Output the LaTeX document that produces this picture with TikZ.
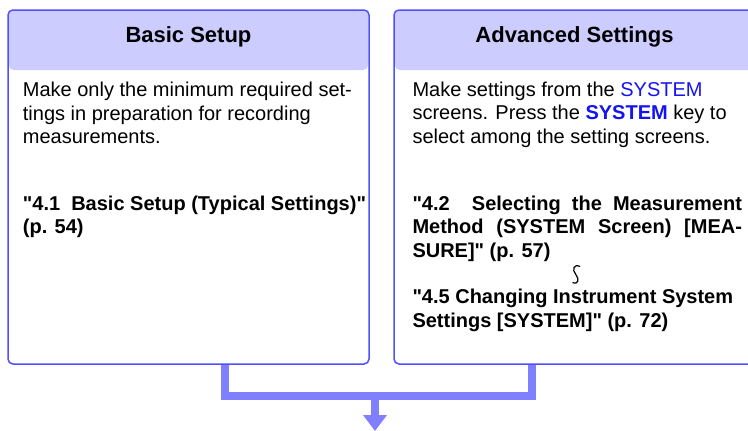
\documentclass[tikz,border=0pt]{standalone}
\usepackage{fontspec}
\setmainfont{Liberation Sans}[Ligatures=TeXOff]
\usetikzlibrary{arrows.meta}
\definecolor{bord}{RGB}{80,80,255}
\definecolor{hdr}{RGB}{204,204,255}
\definecolor{conn}{RGB}{128,128,255}
\definecolor{sysblue}{RGB}{20,20,240}
\tikzset{
  box/.style={draw=bord, line width=1.5pt, rounded corners=5pt},
  hdrfill/.style={fill=hdr, rounded corners=5pt},
  title/.style={anchor=base, inner sep=0pt, font=\fontsize{22}{26}\selectfont\bfseries},
  body/.style={anchor=base west, inner sep=0pt, font=\fontsize{20}{23}\selectfont},
  bref/.style={anchor=base west, inner sep=0pt, font=\fontsize{20}{23}\selectfont\bfseries},
  connline/.style={draw=conn, line width=8pt, line join=miter},
}
\begin{document}
\begin{tikzpicture}[x=1pt,y=-1pt]
\useasboundingbox (0,0) rectangle (748,431);
\clip (0,0) rectangle (748,431);
% header fills
\fill[hdrfill] (8.75,70) -- (8.75,10.75) -- (368.25,10.75) -- (368.25,70) -- cycle;
\fill[hdrfill] (394.75,70) -- (394.75,10.75) -- (754.25,10.75) -- (754.25,70) -- cycle;
% boxes
\node[box, minimum width=361pt, minimum height=354pt, inner sep=0pt] (L) at (188.5,187) {};
\node[box, minimum width=361pt, minimum height=354pt, inner sep=0pt] (R) at (574.5,187) {};
% titles
\node[title] (tl) at (188.5,42.3) {Basic Setup};
\node[title] (tr) at (574.5,42.3) {Advanced Settings};
% left body
\node[body] (l1) at (22.7,96.5) {Make only the minimum required set-};
\node[body] (l2) at (22.7,120) {tings in preparation for recording};
\node[body] (l3) at (22.7,143) {measurements.};
\node[bref] (l4) at (22.7,210) {"4.1\ \ Basic Setup (Typical Settings)"};
\node[bref] (l5) at (22.7,233.3) {(p. 54)};
% right body
\node[body] (r1) at (412.3,96) {Make settings from the \textcolor{sysblue}{SYSTEM}};
\node[body] (r2) at (412.3,119.7) {screens. Press the \textcolor{sysblue}{\bfseries SYSTEM} key to};
\node[body] (r3) at (412.3,143) {select among the setting screens.};
\node[bref] (r4) at (412.3,210) {\makebox[329.5pt][s]{"4.2\ \ Selecting the Measurement}};
\node[bref] (r5) at (412.3,233.8) {\makebox[329.5pt][s]{Method (SYSTEM Screen) [MEA-}};
\node[bref] (r6) at (412.3,257.8) {SURE]" (p. 57)};
\node[bref] (r7) at (412.3,303.3) {"4.5 Changing Instrument System};
\node[bref] (r8) at (412.3,327.3) {Settings [SYSTEM]" (p. 72)};
% squiggle
\draw[line width=1.2pt] (580,266.5) .. controls (574,263.5) and (571.5,269.5) .. (575.8,274.5) .. controls (579.5,279) and (578.5,285) .. (572.5,282.5);
% connector
\coordinate (lx) at (225,396);
\coordinate (rx) at (532,396);
\coordinate (jn) at (375,396);
\coordinate (tip) at (375,431);
\draw[connline] (lx |- L.south) -- (lx) -- (rx) -- (rx |- R.south);
\draw[connline, -{Triangle[width=23pt,length=16pt]}] (jn) -- (tip);
\end{tikzpicture}
\end{document}
